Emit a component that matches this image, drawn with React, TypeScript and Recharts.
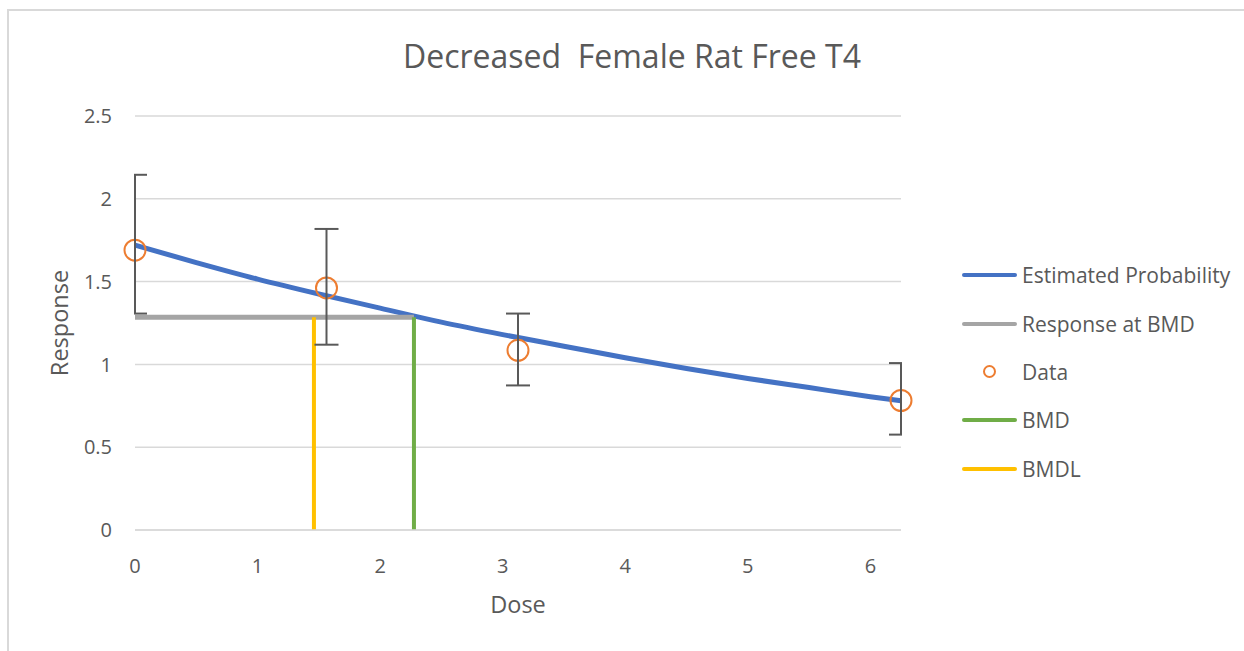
import React from 'react';
import { ComposedChart, Line, Scatter, XAxis, YAxis, CartesianGrid, ErrorBar, Legend } from 'recharts';

const curveDose = [0, 0.5, 1, 1.5, 2, 2.5, 3, 3.5, 4, 4.5, 5, 5.5, 6, 6.25];
const curveResponse = [1.72, 1.615, 1.515, 1.425, 1.34, 1.255, 1.18, 1.11, 1.04, 0.975, 0.915, 0.86, 0.805, 0.78];
const dataDose = [0, 1.5625, 3.125, 6.25];
const dataMean = [1.69, 1.462, 1.085, 0.782];
const dataUpper = [2.145, 1.818, 1.307, 1.008];
const dataLower = [1.307, 1.119, 0.873, 0.576];
const bmd = 2.276;
const bmdl = 1.46;
const bmdResponse = 1.284;
const xTicks = [0, 1, 2, 3, 4, 5, 6];
const yTicks = [0, 0.5, 1, 1.5, 2, 2.5];
const seriesNames = ['Estimated Probability', 'Response at BMD', 'Data', 'BMD', 'BMDL'];
const seriesColors = ['#4472C4', '#A5A5A5', '#ED7D31', '#70AD47', '#FFC000'];

const FONT = "'Open Sans', sans-serif";
const TXT = '#595959';

const curveData = curveDose.map((x, i) => ({ x, y: curveResponse[i] }));
const pointData = dataDose.map((x, i) => ({
  x,
  y: dataMean[i],
  err: [dataMean[i] - dataLower[i], dataUpper[i] - dataMean[i]],
}));
const bmrData = [{ x: 0, y: bmdResponse }, { x: bmd, y: bmdResponse }];
const bmdData = [{ x: bmd, y: 0 }, { x: bmd, y: bmdResponse }];
const bmdlData = [{ x: bmdl, y: 0 }, { x: bmdl, y: bmdResponse }];

const CHART_W = 1244;
const CHART_H = 651;
const PLOT_LEFT = 135;
const PLOT_RIGHT_MARGIN = 343;
const PLOT_TOP = 116;
const PLOT_BOTTOM_MARGIN = 121;

const renderLegend = () => (
  <div style={{ fontFamily: FONT, color: TXT, fontSize: 21 }}>
    {seriesNames.map((name, i) => (
      <div key={name} style={{ height: 48.4, display: 'flex', alignItems: 'center' }}>
        <div style={{ width: 55, marginLeft: 7, display: 'flex', justifyContent: 'center', alignItems: 'center' }}>
          {name === 'Data' ? (
            <div style={{ width: 9, height: 9, borderRadius: '50%', border: `2px solid ${seriesColors[i]}` }} />
          ) : (
            <div style={{ width: 55, height: 4, borderRadius: 2, background: seriesColors[i] }} />
          )}
        </div>
        <span style={{ marginLeft: 5, whiteSpace: 'nowrap' }}>{name}</span>
      </div>
    ))}
  </div>
);

const DataCircle = (p: any) => (
  <circle cx={p.cx} cy={p.cy} r={10.5} fill="none" stroke={seriesColors[2]} strokeWidth={2} />
);
const Empty = () => <g />;

export default function App() {
  const plotWidth = CHART_W - PLOT_LEFT - PLOT_RIGHT_MARGIN;
  return (
    <div style={{ position: 'absolute', left: 0, top: 0, width: CHART_W, height: CHART_H, overflow: 'hidden', background: '#fff' }}>
      <div style={{ position: 'absolute', left: 7, top: 9, width: 1400, height: 800, border: '2px solid #d9d9d9' }} />
      <div
        style={{
          position: 'absolute', left: 0, top: 39, width: 1264, textAlign: 'center',
          fontFamily: FONT, fontSize: 32, lineHeight: '34px', color: TXT, whiteSpace: 'pre',
        }}
      >
        Decreased  Female Rat Free T4
      </div>
      <div style={{ position: 'absolute', left: 0, top: 0 }}>
        <ComposedChart width={CHART_W} height={CHART_H} margin={{ top: PLOT_TOP, right: PLOT_RIGHT_MARGIN, bottom: 81, left: 75 }}>
          <CartesianGrid vertical={false} stroke="#d9d9d9" strokeWidth={1.5} />
          <XAxis
            dataKey="x"
            type="number"
            domain={[0, 6.25]}
            ticks={xTicks}
            interval={0}
            height={40}
            axisLine={{ stroke: '#d9d9d9', strokeWidth: 1.5 }}
            tickLine={false}
            tickSize={6}
            tickMargin={23}
            tick={{ fill: TXT, fontSize: 20, fontFamily: FONT }}
            label={{
              value: 'Dose',
              content: (props: any) => {
                const vb = props.viewBox;
                return (
                  <text x={vb.x + vb.width / 2} y={613} textAnchor="middle" fill={TXT} fontSize={23.5} fontFamily={FONT}>
                    Dose
                  </text>
                );
              },
            }}
          />
          <YAxis
            type="number"
            domain={[0, 2.5]}
            ticks={yTicks}
            interval={0}
            width={60}
            axisLine={false}
            tickLine={false}
            tickSize={6}
            tickMargin={17}
            tick={{ fill: TXT, fontSize: 20, fontFamily: FONT }}
            label={{
              value: 'Response',
              content: (props: any) => {
                const vb = props.viewBox;
                const cy = vb.y + vb.height / 2;
                return (
                  <text x={68} y={cy} transform={`rotate(-90 68 ${cy})`} textAnchor="middle" fill={TXT} fontSize={23.5} fontFamily={FONT}>
                    Response
                  </text>
                );
              },
            }}
          />
          <Line data={curveData} dataKey="y" name={seriesNames[0]} type="monotone" stroke={seriesColors[0]} strokeWidth={5} dot={false} activeDot={false} isAnimationActive={false} />
          <Line data={bmrData} dataKey="y" name={seriesNames[1]} type="linear" stroke={seriesColors[1]} strokeWidth={5} dot={false} activeDot={false} isAnimationActive={false} />
          <Scatter data={pointData} dataKey="y" name={seriesNames[2]} shape={DataCircle} isAnimationActive={false} />
          <Line data={bmdData} dataKey="y" name={seriesNames[3]} type="linear" stroke={seriesColors[3]} strokeWidth={4} dot={false} activeDot={false} isAnimationActive={false} />
          <Line data={bmdlData} dataKey="y" name={seriesNames[4]} type="linear" stroke={seriesColors[4]} strokeWidth={4} dot={false} activeDot={false} isAnimationActive={false} />
          <Legend
            content={renderLegend}
            layout="horizontal"
            verticalAlign="middle"
            align="center"
            wrapperStyle={{ left: 955, top: 251, width: 290, height: 245 }}
          />
        </ComposedChart>
      </div>
      {/* error bars, clipped to the plot area like the original */}
      <div style={{ position: 'absolute', left: PLOT_LEFT - 1, top: 0, width: plotWidth + 2, height: CHART_H, overflow: 'hidden' }}>
        <div style={{ position: 'absolute', left: -(PLOT_LEFT - 1), top: 0 }}>
          <ComposedChart
            width={CHART_W}
            height={CHART_H}
            margin={{ top: PLOT_TOP, right: PLOT_RIGHT_MARGIN, bottom: PLOT_BOTTOM_MARGIN, left: PLOT_LEFT }}
          >
            <XAxis dataKey="x" type="number" domain={[0, 6.25]} hide />
            <YAxis type="number" domain={[0, 2.5]} hide />
            <Scatter data={pointData} dataKey="y" shape={Empty} legendType="none" isAnimationActive={false}>
              <ErrorBar dataKey="err" direction="y" width={12} stroke="#595959" strokeWidth={2} isAnimationActive={false} />
            </Scatter>
          </ComposedChart>
        </div>
      </div>
    </div>
  );
}
